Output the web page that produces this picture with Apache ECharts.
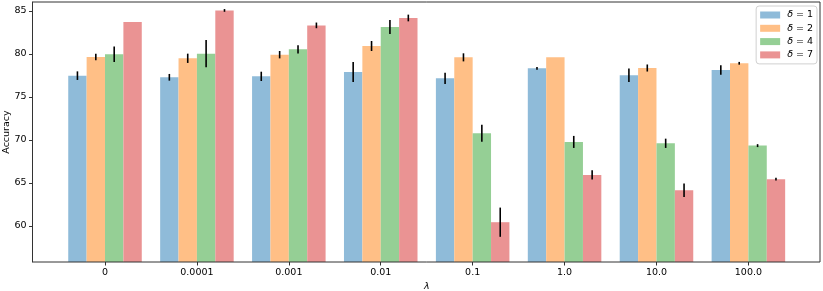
<!DOCTYPE html>
<html>
<head>
<meta charset="utf-8">
<script src="https://cdn.jsdelivr.net/npm/echarts@6/dist/echarts.min.js"></script>
<style>html,body{margin:0;padding:0;background:#fff}#c{width:823px;height:291px}</style>
</head>
<body>
<div id="c"></div>
<script>
const categories = ['0', '0.0001', '0.001', '0.01', '0.1', '1.0', '10.0', '100.0'];
const seriesNames = ['δ = 1', 'δ = 2', 'δ = 4', 'δ = 7'];
const delta1 = [77.48, 77.29, 77.40, 77.91, 77.17, 78.33, 77.52, 78.14];
const delta2 = [79.65, 79.50, 79.92, 80.93, 79.61, 79.61, 78.37, 78.92];
const delta4 = [79.96, 80.04, 80.54, 83.14, 70.78, 69.77, 69.61, 69.34];
const delta7 = [83.72, 85.07, 83.33, 84.19, 60.43, 65.93, 64.15, 65.43];
const err1 = [0.50, 0.39, 0.54, 1.16, 0.66, 0.16, 0.78, 0.56];
const err2 = [0.39, 0.54, 0.43, 0.58, 0.47, 0.00, 0.41, 0.16];
const err4 = [0.90, 1.59, 0.47, 0.81, 1.00, 0.70, 0.54, 0.17];
const err7 = [0.00, 0.16, 0.33, 0.39, 1.70, 0.54, 0.78, 0.16];
const yTicks = [60, 65, 70, 75, 80, 85];

const values = [delta1, delta2, delta4, delta7];
const errs = [err1, err2, err4, err7];
const colors = ['#8fbbd9', '#ffbf86', '#95cf95', '#ea9393'];
const FONT = 'DejaVu Sans';
const YMIN = 55.8, YMAX = 86.05;

const chart = echarts.init(document.getElementById('c'), null, {renderer: 'canvas'});

const series = [];
values.forEach((vals, s) => {
  series.push({
    type: 'bar', name: seriesNames[s], xAxisIndex: 1, yAxisIndex: 1,
    data: vals, barWidth: '20%', barGap: '0%',
    itemStyle: {color: colors[s]}, emphasis: {disabled: true}, animation: false
  });
});
values.forEach((vals, s) => {
  series.push({
    type: 'custom', xAxisIndex: 1, yAxisIndex: 1, animation: false, silent: true,
    data: vals.map((v, i) => [i, v, errs[s][i]]),
    encode: {x: 0, y: 1},
    z: 5,
    renderItem: function (params, api) {
      const i = api.value(0), v = api.value(1), e = api.value(2);
      if (!(e > 0)) return null;
      const p1 = api.coord([i, v + e]);
      const p2 = api.coord([i, v - e]);
      const band = api.size([1, 0])[0];
      const dx = (s - 1.5) * band * 0.2;
      return {type: 'line', shape: {x1: p1[0] + dx, y1: p1[1], x2: p2[0] + dx, y2: p2[1]},
              style: {stroke: '#000', lineWidth: 1.6}};
    }
  });
});

chart.setOption({
  animation: false,
  textStyle: {fontFamily: FONT},
  grid: [
    {left: 32.5, right: 3, top: 2, bottom: 29, show: true, borderColor: '#333', borderWidth: 1,
     backgroundColor: 'transparent', z: 10, containLabel: false, outerBoundsMode: 'none'},
    {left: 59.05, width: 735.3, top: 2, bottom: 29, containLabel: false, outerBoundsMode: 'none'}
  ],
  xAxis: [
    {type: 'value', gridIndex: 0, min: 0, max: 1, show: false},
    {type: 'category', gridIndex: 1, data: categories, boundaryGap: true,
     axisLine: {show: false},
     axisTick: {show: true, alignWithLabel: true, length: 3.5, lineStyle: {color: '#333'}},
     axisLabel: {color: '#000', fontSize: 9.5, fontFamily: FONT, margin: 6, interval: 0},
     name: 'λ', nameLocation: 'middle', nameGap: 19.5, nameMoveOverlap: false,
     nameTextStyle: {color: '#000', fontSize: 9.5, fontStyle: 'italic', fontFamily: FONT},
     splitLine: {show: false}}
  ],
  yAxis: [
    {type: 'value', gridIndex: 0, min: YMIN, max: YMAX,
     axisLine: {show: true, lineStyle: {color: '#333'}},
     axisTick: {show: true, length: 3.5, lineStyle: {color: '#333'}, customValues: yTicks},
     axisLabel: {color: '#000', fontSize: 9.5, fontFamily: FONT, margin: 6, customValues: yTicks},
     splitLine: {show: false},
     name: 'Accuracy', nameLocation: 'middle', nameGap: 21, nameRotate: 90, nameMoveOverlap: false,
     nameTextStyle: {color: '#000', fontSize: 9.5, fontFamily: FONT}},
    {type: 'value', gridIndex: 1, min: YMIN, max: YMAX, show: false, splitLine: {show: false}}
  ],
  legend: {
    data: seriesNames, orient: 'vertical', right: 6, top: 6,
    itemWidth: 20, itemHeight: 7, itemGap: 3.3,
    padding: [4, 4, 4, 4],
    backgroundColor: '#fff', borderColor: '#d0d0d0', borderWidth: 1, borderRadius: 3,
    icon: 'rect',
    formatter: function (name) { return '{i|δ}' + name.slice(1); },
    textStyle: {color: '#000', fontSize: 9.5, fontFamily: FONT, lineHeight: 10, padding: [0, 0, 0, 2],
      rich: {i: {fontStyle: 'italic', fontSize: 9.5, fontFamily: FONT, color: '#000', lineHeight: 10}}},
    selectedMode: false
  },
  series: series
});
</script>
</body>
</html>
